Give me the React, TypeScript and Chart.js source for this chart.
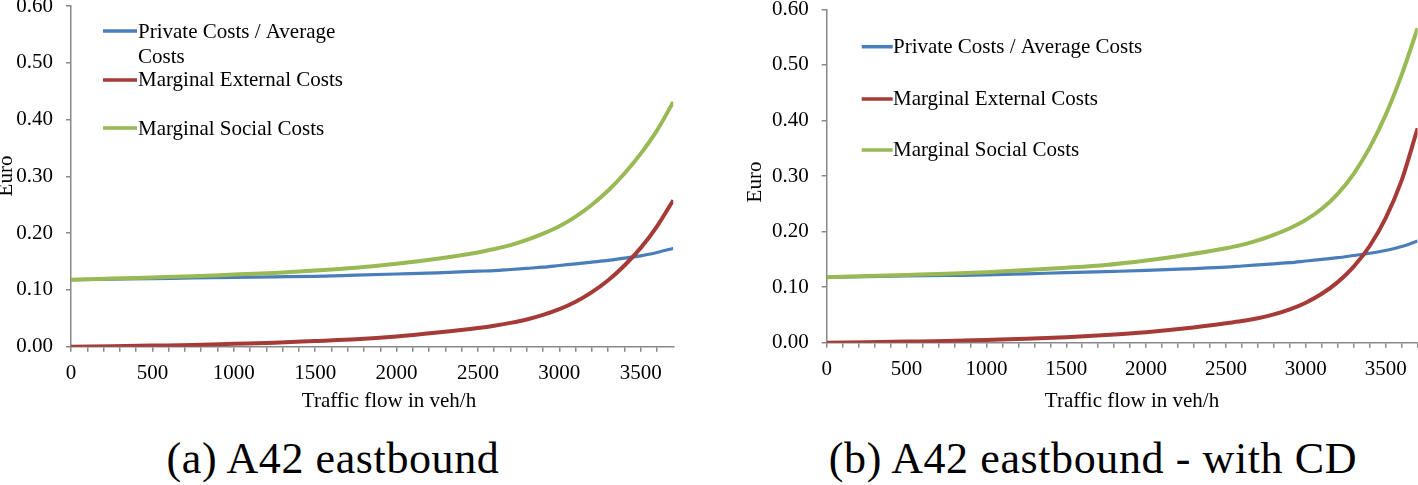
import { useEffect, useRef } from 'react';
import { Chart, registerables } from 'chart.js';

Chart.register(...registerables);

// ---- data ----
const flows = [0, 250, 500, 750, 1000, 1250, 1500, 1750, 2000, 2250, 2500, 2600, 2700, 2800, 2900, 3000, 3100, 3200, 3300, 3400, 3500, 3600, 3700];

const privateA = [0.118, 0.119, 0.120, 0.121, 0.122, 0.123, 0.124, 0.126, 0.128, 0.130, 0.133, 0.134, 0.136, 0.138, 0.140, 0.143, 0.146, 0.149, 0.152, 0.156, 0.160, 0.166, 0.173];
const externalA = [0.000, 0.001, 0.002, 0.003, 0.005, 0.007, 0.010, 0.013, 0.018, 0.025, 0.033, 0.037, 0.042, 0.048, 0.056, 0.066, 0.079, 0.096, 0.117, 0.143, 0.174, 0.212, 0.258];
const socialA = [0.118, 0.120, 0.122, 0.124, 0.127, 0.130, 0.134, 0.139, 0.146, 0.155, 0.166, 0.172, 0.179, 0.188, 0.199, 0.212, 0.229, 0.250, 0.275, 0.305, 0.340, 0.381, 0.431];

const privateB = [0.118, 0.119, 0.120, 0.121, 0.122, 0.124, 0.126, 0.128, 0.130, 0.133, 0.136, 0.138, 0.140, 0.142, 0.144, 0.147, 0.150, 0.153, 0.157, 0.161, 0.166, 0.173, 0.183];
const externalB = [0.000, 0.001, 0.002, 0.003, 0.005, 0.007, 0.010, 0.014, 0.019, 0.026, 0.035, 0.039, 0.044, 0.051, 0.060, 0.072, 0.088, 0.109, 0.137, 0.174, 0.224, 0.292, 0.386];
const socialB = [0.118, 0.120, 0.122, 0.124, 0.127, 0.131, 0.135, 0.140, 0.148, 0.158, 0.170, 0.176, 0.184, 0.194, 0.206, 0.221, 0.241, 0.268, 0.304, 0.351, 0.410, 0.482, 0.566];

const seriesNames = ['Private Costs / Average Costs', 'Marginal External Costs', 'Marginal Social Costs'];
const seriesColors = ['#4A7EBB', '#A53A37', '#98B954'];
const seriesWidths = [3.2, 4, 4];
const xMin = 0;
const xMax = 3700;
const xMinorStep = 100;
const xLabelStep = 500;
const yMin = 0;
const yMax = 0.6;
const yStep = 0.1;
const xTitle = 'Traffic flow in veh/h';
const yTitle = 'Euro';
const captions = ['(a) A42 eastbound', '(b) A42 eastbound - with CD'];

const FONT = '"Liberation Serif", "Times New Roman", serif';
const FONT_SIZE = 21;
const AXIS_GRAY = '#888888';

type Panel = {
  series: number[][];
  padTop: number;
  padRight: number;
  padBottom: number;
  yAxisWidth: number;
  keepLastTick: boolean;
  xTitleX: number;
  xTitleBase: number;
  yTitleBaseX: number;
  yTitleCY: number;
  legX0: number;
  legX1: number;
  legTextX: number;
  legWrap: number;
  legLineY: number[];
  legTextY: number[];
  legLineGap: number;
};

const panels: Panel[] = [
  {
    series: [privateA, externalA, socialA],
    padTop: 6,
    padRight: 35.7,
    padBottom: 13.3,
    yAxisWidth: 71,
    keepLastTick: false,
    xTitleX: 389,
    xTitleBase: 407,
    yTitleBaseX: 12,
    yTitleCY: 176,
    legX0: 103,
    legX1: 137,
    legTextX: 138,
    legWrap: 210,
    legLineY: [31, 80, 128],
    legTextY: [32, 80, 129],
    legLineGap: 25,
  },
  {
    series: [privateB, externalB, socialB],
    padTop: 9.3,
    padRight: 0.4,
    padBottom: 17.3,
    yAxisWidth: 117.7,
    keepLastTick: true,
    xTitleX: 423,
    xTitleBase: 407,
    yTitleBaseX: 52,
    yTitleCY: 182,
    legX0: 152.7,
    legX1: 183.7,
    legTextX: 184,
    legWrap: 600,
    legLineY: [46.7, 99, 150],
    legTextY: [47, 99, 150],
    legLineGap: 25,
  },
];

function wrapText(ctx: CanvasRenderingContext2D, text: string, maxW: number): string[] {
  const words = text.split(' ');
  const lines: string[] = [];
  let cur = '';
  for (const w of words) {
    const test = cur ? cur + ' ' + w : w;
    if (cur && ctx.measureText(test).width > maxW) {
      lines.push(cur);
      cur = w;
    } else {
      cur = test;
    }
  }
  if (cur) lines.push(cur);
  return lines;
}

function makeDeco(p: Panel) {
  return {
    id: 'deco',
    afterDraw(chart: any) {
      const ctx: CanvasRenderingContext2D = chart.ctx;
      ctx.save();
      ctx.font = `${FONT_SIZE}px ${FONT}`;
      ctx.fillStyle = '#000';
      ctx.textAlign = 'center';
      ctx.textBaseline = 'alphabetic';
      ctx.fillText(xTitle, p.xTitleX, p.xTitleBase);

      ctx.save();
      ctx.translate(p.yTitleBaseX, p.yTitleCY);
      ctx.rotate(-Math.PI / 2);
      ctx.textAlign = 'center';
      ctx.textBaseline = 'alphabetic';
      ctx.fillText(yTitle, 0, 0);
      ctx.restore();

      seriesNames.forEach((name, i) => {
        ctx.strokeStyle = seriesColors[i];
        ctx.lineWidth = 3.5;
        ctx.beginPath();
        ctx.moveTo(p.legX0, p.legLineY[i]);
        ctx.lineTo(p.legX1, p.legLineY[i]);
        ctx.stroke();
        ctx.textAlign = 'left';
        ctx.textBaseline = 'middle';
        const lines = wrapText(ctx, name, p.legWrap);
        lines.forEach((t, j) => ctx.fillText(t, p.legTextX, p.legTextY[i] + j * p.legLineGap));
      });
      ctx.restore();
    },
  };
}

function makeConfig(p: Panel): any {
  const font = { family: FONT, size: FONT_SIZE };
  return {
    type: 'line',
    data: {
      datasets: p.series.map((arr, i) => ({
        label: seriesNames[i],
        data: flows.map((x, k) => ({ x, y: arr[k] })),
        borderColor: seriesColors[i],
        backgroundColor: seriesColors[i],
        borderWidth: seriesWidths[i],
        pointRadius: 0,
        fill: false,
        cubicInterpolationMode: 'monotone',
        order: [3, 2, 1][i],
      })),
    },
    options: {
      responsive: false,
      animation: false,
      devicePixelRatio: 1,
      layout: { padding: { left: 0, top: p.padTop, right: p.padRight, bottom: p.padBottom } },
      plugins: { legend: { display: false }, tooltip: { enabled: false }, title: { display: false } },
      scales: {
        x: {
          type: 'linear',
          min: xMin,
          max: xMax,
          afterBuildTicks: (s: any) => {
            if (!p.keepLastTick) s.ticks = s.ticks.filter((t: any) => t.value < xMax);
          },
          afterFit: (s: any) => {
            s.height = 60;
            s.paddingLeft = 0;
            s.paddingRight = 0;
          },
          ticks: {
            stepSize: xMinorStep,
            autoSkip: false,
            maxRotation: 0,
            minRotation: 0,
            padding: 9,
            color: '#000',
            font,
            callback: (v: any) => (Number(v) % xLabelStep === 0 ? String(v) : ''),
          },
          grid: { drawOnChartArea: false, drawTicks: true, tickLength: 5, color: AXIS_GRAY, lineWidth: 1.5 },
          border: { display: true, color: AXIS_GRAY, width: 1.5 },
        },
        y: {
          type: 'linear',
          min: yMin,
          max: yMax,
          afterFit: (s: any) => {
            s.width = p.yAxisWidth;
            s.paddingTop = 0;
            s.paddingBottom = 0;
          },
          ticks: {
            stepSize: yStep,
            padding: 13,
            color: '#000',
            font,
            callback: (v: any) => Number(v).toFixed(2),
          },
          grid: { drawOnChartArea: false, drawTicks: true, tickLength: 5, color: AXIS_GRAY, lineWidth: 1.5 },
          border: { display: true, color: AXIS_GRAY, width: 1.5 },
        },
      },
    },
    plugins: [makeDeco(p)],
  };
}

export default function App() {
  const leftRef = useRef<HTMLCanvasElement | null>(null);
  const rightRef = useRef<HTMLCanvasElement | null>(null);

  useEffect(() => {
    const charts: Chart[] = [];
    [leftRef, rightRef].forEach((r, i) => {
      if (r.current) charts.push(new Chart(r.current, makeConfig(panels[i])));
    });
    return () => charts.forEach((c) => c.destroy());
  }, []);

  const capStyle = (cx: number): any => ({
    position: 'absolute',
    left: cx - 350,
    width: 700,
    top: 437,
    textAlign: 'center',
    fontFamily: FONT,
    fontSize: 44,
    lineHeight: '44px',
    letterSpacing: '0.6px',
    color: '#000',
    whiteSpace: 'nowrap',
  });

  return (
    <div style={{ position: 'absolute', left: 0, top: 0, width: 1418, height: 485, background: '#fff', overflow: 'hidden' }}>
      <div style={{ position: 'absolute', left: 0, top: 0, width: 709, height: 420 }}>
        <canvas ref={leftRef} width={709} height={420} style={{ width: 709, height: 420, display: 'block' }} />
      </div>
      <div style={{ position: 'absolute', left: 709, top: 0, width: 709, height: 420 }}>
        <canvas ref={rightRef} width={709} height={420} style={{ width: 709, height: 420, display: 'block' }} />
      </div>
      <div style={capStyle(333)}>{captions[0]}</div>
      <div style={capStyle(1093)}>{captions[1]}</div>
    </div>
  );
}
